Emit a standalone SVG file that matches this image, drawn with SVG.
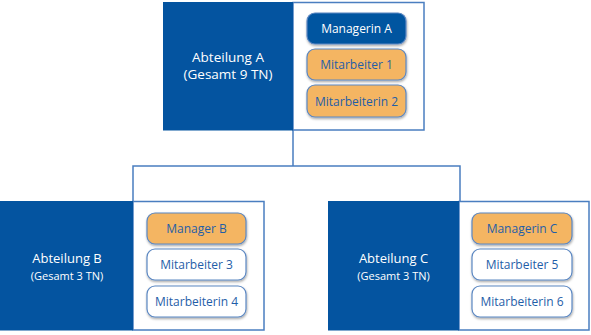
<svg xmlns="http://www.w3.org/2000/svg" width="591" height="335" viewBox="0 0 591 335">
<defs>
<filter id="sh" x="-10%" y="-20%" width="120%" height="150%">
<feDropShadow dx="0.5" dy="1.5" stdDeviation="1" flood-color="#000" flood-opacity="0.35"/>
</filter>
<style>
.dk{fill:#0454A0;}
.wb{fill:#fff;stroke:#4A7EC0;stroke-width:1.5;}
.pill{stroke:#5B87C2;stroke-width:1.2;filter:url(#sh);}
.pd{fill:#0454A0;}
.po{fill:#F4B562;}
.pw{fill:#fff;}
.t{font-family:"Open Sans","Liberation Sans",sans-serif;text-anchor:middle;}
.tw{fill:#fff;}
.tb{fill:#1F5EA8;font-size:12px;}
.con{fill:none;stroke:#4A7EC0;stroke-width:1.5;}
</style>
</defs>
<g id="connectors">
<path class="con" d="M293 130 V166 M133 201 V166 H460 V201"/>
</g>
<g id="abteilung-a">
<rect class="wb" x="293" y="2.5" width="131" height="127.5"/>
<rect class="dk" x="163" y="2" width="130" height="128.5"/>
<text class="t tw" x="228" y="62" font-size="13.5">Abteilung A</text>
<text class="t tw" x="228" y="79" font-size="13.5">(Gesamt 9 TN)</text>
</g>
<g id="managerin-a"><rect class="pill pd" x="307" y="13" width="99" height="31" rx="8"/><text class="t tw" x="356.5" y="33" font-size="12">Managerin A</text></g>
<g id="mitarbeiter-1"><rect class="pill po" x="307" y="49" width="99" height="31" rx="8"/><text class="t tb" x="356.5" y="69">Mitarbeiter 1</text></g>
<g id="mitarbeiterin-2"><rect class="pill po" x="307" y="85" width="99" height="32" rx="8"/><text class="t tb" x="356.5" y="105.5">Mitarbeiterin 2</text></g>
<g id="abteilung-b">
<rect class="wb" x="133" y="201.5" width="131" height="128.5"/>
<rect class="dk" x="0" y="201" width="133" height="129.5"/>
<text class="t tw" x="67" y="263" font-size="13">Abteilung B</text>
<text class="t tw" x="67" y="280" font-size="11">(Gesamt 3 TN)</text>
</g>
<g id="manager-b"><rect class="pill po" x="147" y="213" width="99" height="31" rx="8"/><text class="t tb" x="196.5" y="233">Manager B</text></g>
<g id="mitarbeiter-3"><rect class="pill pw" x="147" y="249" width="99" height="31" rx="8"/><text class="t tb" x="196.5" y="269">Mitarbeiter 3</text></g>
<g id="mitarbeiterin-4"><rect class="pill pw" x="147" y="286" width="99" height="31" rx="8"/><text class="t tb" x="196.5" y="306">Mitarbeiterin 4</text></g>
<g id="abteilung-c">
<rect class="wb" x="459" y="201.5" width="130" height="128.5"/>
<rect class="dk" x="328" y="201" width="131" height="129.5"/>
<text class="t tw" x="393.5" y="263" font-size="13">Abteilung C</text>
<text class="t tw" x="393.5" y="280" font-size="11">(Gesamt 3 TN)</text>
</g>
<g id="managerin-c"><rect class="pill po" x="472" y="213" width="100" height="31" rx="8"/><text class="t tb" x="522" y="233">Managerin C</text></g>
<g id="mitarbeiter-5"><rect class="pill pw" x="472" y="249" width="100" height="31" rx="8"/><text class="t tb" x="522" y="269">Mitarbeiter 5</text></g>
<g id="mitarbeiterin-6"><rect class="pill pw" x="472" y="286" width="100" height="31" rx="8"/><text class="t tb" x="522" y="306">Mitarbeiterin 6</text></g>
</svg>
